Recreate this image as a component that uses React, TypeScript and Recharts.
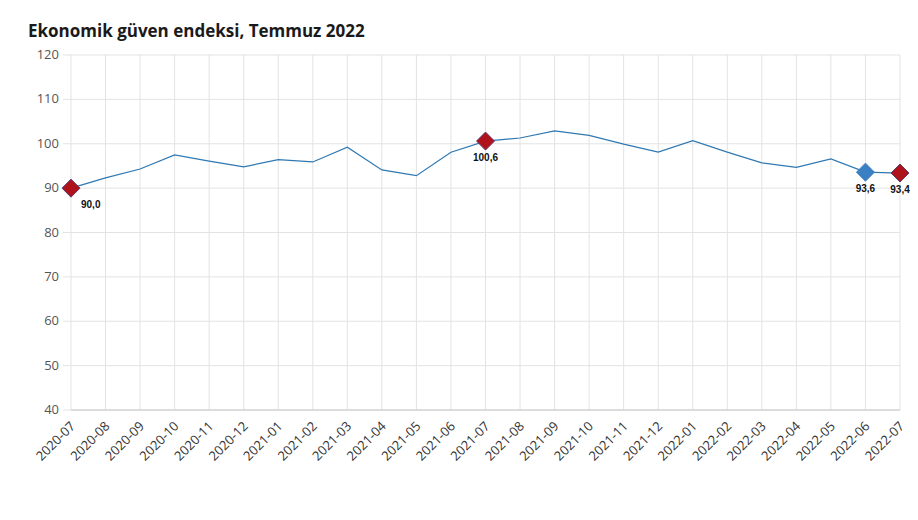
import React from "react";
import { LineChart, Line, XAxis, YAxis, CartesianGrid } from "recharts";

const months = [
  "2020-07", "2020-08", "2020-09", "2020-10", "2020-11", "2020-12",
  "2021-01", "2021-02", "2021-03", "2021-04", "2021-05", "2021-06",
  "2021-07", "2021-08", "2021-09", "2021-10", "2021-11", "2021-12",
  "2022-01", "2022-02", "2022-03", "2022-04", "2022-05", "2022-06", "2022-07",
];
const values = [
  90.0, 92.3, 94.3, 97.5, 96.1, 94.8,
  96.4, 95.9, 99.2, 94.1, 92.8, 98.1,
  100.6, 101.3, 102.9, 101.9, 99.9, 98.1,
  100.7, 98.1, 95.7, 94.7, 96.6, 93.6, 93.4,
];
const yTicks = [40, 50, 60, 70, 80, 90, 100, 110, 120];
const redMarked = ["2020-07", "2021-07", "2022-07"];
const blueMarked = ["2022-06"];
const rightLabelled = ["2020-07"];

const data = months.map((m, i) => ({ month: m, value: values[i] }));

const fmt = (v: number) => v.toFixed(1).replace(".", ",");

const Dot = (props: any) => {
  const { cx, cy, payload, index } = props;
  const isRed = redMarked.includes(payload.month);
  const isBlue = blueMarked.includes(payload.month);
  if (!isRed && !isBlue) return <g key={index} />;
  const r = 9;
  const fill = isRed ? "#b0121b" : "#3a80c3";
  const stroke = isRed ? "#5b3a6e" : "#3a80c3";
  const right = rightLabelled.includes(payload.month);
  return (
    <g key={index}>
      <polygon
        points={`${cx},${cy - r} ${cx + r},${cy} ${cx},${cy + r} ${cx - r},${cy}`}
        fill={fill}
        stroke={stroke}
        strokeWidth={1}
      />
      <text
        x={right ? cx + 10 : cx}
        y={cy + 20}
        textAnchor={right ? "start" : "middle"}
        fontSize={10}
        fontWeight={700}
        fontFamily="Arial, 'Liberation Sans', sans-serif"
        fill="#111"
      >
        {fmt(payload.value)}
      </text>
    </g>
  );
};

const XTick = (props: any) => {
  const { x, y, payload } = props;
  return (
    <text
      x={x + 5}
      y={y + 9}
      transform={`rotate(-45, ${x + 5}, ${y + 9})`}
      textAnchor="end"
      fontSize={13}
      fontFamily="'Open Sans', sans-serif"
      fill="#333"
    >
      {payload.value}
    </text>
  );
};

const YTick = (props: any) => {
  const { x, y, payload } = props;
  return (
    <text
      x={x - 2}
      y={y + 4}
      textAnchor="end"
      fontSize={13}
      fontFamily="'Open Sans', sans-serif"
      fill="#555"
    >
      {payload.value}
    </text>
  );
};

export default function App() {
  return (
    <div style={{ position: "absolute", left: 0, top: 0, width: 918, height: 520, background: "#fff" }}>
      <div
        style={{
          position: "absolute",
          left: 28,
          top: 19,
          fontFamily: "'Open Sans', sans-serif",
          fontWeight: 700,
          fontSize: 17,
          color: "#1a1a1a",
          whiteSpace: "nowrap",
        }}
      >
        Ekonomik güven endeksi, Temmuz 2022
      </div>
      <div style={{ position: "absolute", left: 0, top: 0 }}>
        <LineChart
          width={918}
          height={520}
          data={data}
          margin={{ top: 55, right: 18, bottom: 40, left: 0 }}
        >
          <CartesianGrid stroke="#e3e3e3" strokeWidth={1} />
          <XAxis
            dataKey="month"
            interval={0}
            height={70}
            tick={<XTick />}
            tickLine={false}
            axisLine={{ stroke: "#c8c8c8" }}
          />
          <YAxis
            domain={[40, 120]}
            ticks={yTicks}
            width={71}
            tick={<YTick />}
            tickLine={{ stroke: "#e3e3e3" }}
            tickSize={8}
            axisLine={false}
          />
          <Line
            type="linear"
            dataKey="value"
            stroke="#2f78b2"
            strokeWidth={1.2}
            dot={<Dot />}
            activeDot={false}
            isAnimationActive={false}
          />
        </LineChart>
      </div>
    </div>
  );
}
